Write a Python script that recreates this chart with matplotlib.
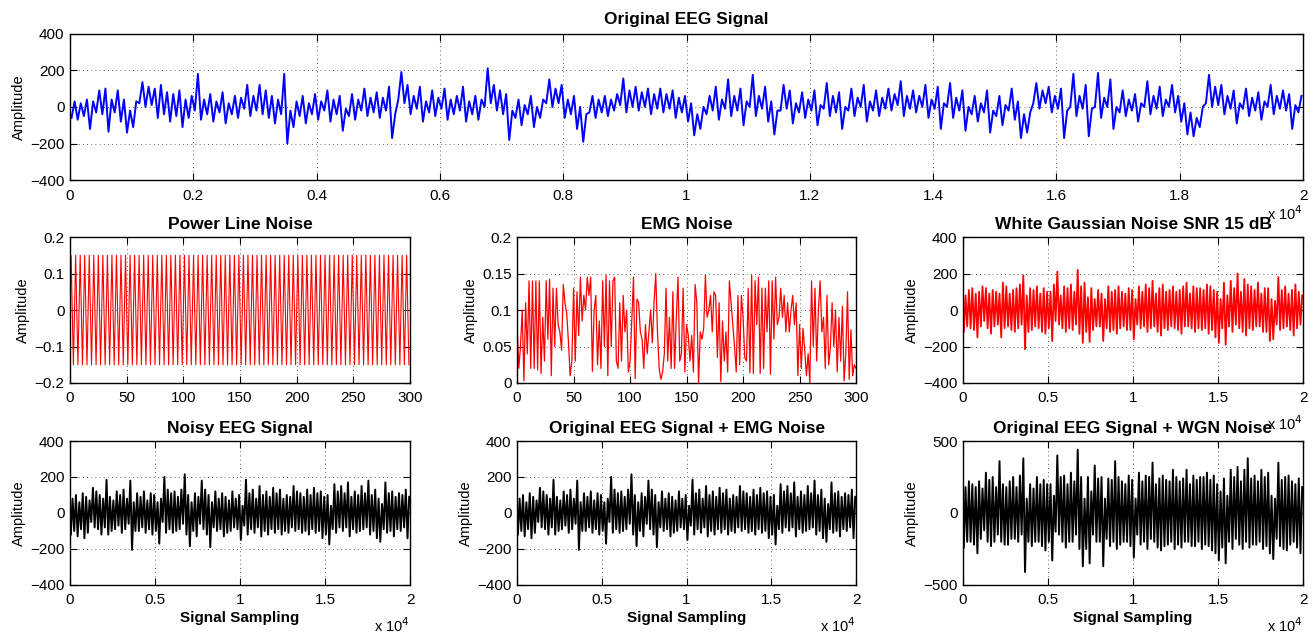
import numpy as np
import matplotlib
matplotlib.use("Agg")
import matplotlib.pyplot as plt
from matplotlib.ticker import FuncFormatter

plt.rcParams['font.family'] = ['Liberation Sans', 'DejaVu Sans']
plt.rcParams['font.size'] = 10

# Dense signals are kept as the low / high extent of the trace in each column
# of the picture (the line runs from one to the other inside every column).

# original EEG, one column per 100 samples (0 .. 20000)
eeg_lo = [-60, -70, -50, -120, -30, -40, -135, -30, -80, -140,
          -110, 20, 0, 10, -60, -40, -80, -50, -110, -60,
          -20, -70, -40, -80, -30, -90, -40, -60, -10, -50,
          -20, -40, -60, -90, -40, -200, -110, -50, -90, -40,
          -70, -20, -80, -40, -130, -50, -70, -20, -50, -30,
          -60, -20, -170, 40, 20, -40, -10, -80, -30, -50,
          -10, -70, -40, -20, -80, -40, -70, 0, 20, -20,
          -40, -180, -60, -100, -40, -110, -60, 20, 0, 20,
          -60, -40, -120, -190, -30, -60, -30, -50, -20, 10,
          -30, 0, -20, 0, -40, -10, -30, -10, -60, -30,
          -80, -155, -120, -40, -20, -70, -10, -50, -20, -100,
          0, -50, -10, -80, -150, -20, -10, -90, -30, -60,
          -20, -100, -10, -50, -30, -120, -20, -50, 0, -80,
          -20, -50, -10, -20, 10, -50, -10, -30, 0, -60,
          -10, -120, 0, -60, -20, -130, -40, -80, -30, -140,
          -50, -100, -20, -70, -170, -140, 20, -10, 20, -30,
          -10, -170, 0, -50, -10, -160, 0, -60, 0, -120,
          -30, -50, -20, -80, 0, -40, -10, -50, 0, -30,
          -80, -150, -160, -110, 20, 0, 10, -40, -10, -90,
          -10, -50, -20, -70, 0, -40, -10, -20, -120, -30]
eeg_hi = [30, 20, 40, 30, 90, 100, 40, 90, 40, -20,
          30, 135, 110, 100, 120, 80, 70, 90, 40, 60,
          180, 40, 70, 30, 80, 20, 60, 50, 120, 60,
          120, 90, 60, 40, 180, -20, 30, 60, 20, 70,
          30, 90, 40, 60, -10, 70, 40, 100, 50, 80,
          50, 110, -40, 190, 120, 60, 110, 30, 90, 50,
          100, 40, 60, 110, 30, 60, 40, 210, 120, 90,
          70, -20, 40, 10, 60, 0, 40, 150, 100, 120,
          40, 60, 0, -40, 60, 40, 60, 40, 70, 155,
          90, 110, 80, 100, 70, 100, 70, 90, 50, 60,
          20, -40, 0, 60, 110, 40, 150, 60, 100, 30,
          175, 60, 110, 30, -20, 120, 90, 20, 80, 40,
          90, 10, 130, 60, 80, 0, 100, 50, 120, 30,
          90, 50, 100, 70, 140, 60, 90, 60, 120, 40,
          110, 20, 130, 50, 90, 0, 60, 20, 90, -20,
          60, 10, 100, 30, -40, -30, 130, 90, 110, 60,
          100, -20, 180, 60, 120, -10, 185, 50, 150, 0,
          90, 40, 70, 20, 140, 60, 110, 40, 120, 60,
          20, -30, -60, 0, 175, 110, 120, 60, 90, 20,
          100, 50, 80, 30, 120, 60, 90, 70, 10, 60]

# power line noise, one cycle of 4 samples, repeats over 300 samples
pl_cycle = [0.0, 0.15, 0.0, -0.15]
pl_cycles = 75

# EMG noise over 300 samples
emg = [0.08, 0.02, 0.05, 0.10, 0.003, 0.11, 0.04, 0.14, 0.02, 0.14,
       0.02, 0.14, 0.018, 0.14, 0.013, 0.09, 0.03, 0.14, 0.06, 0.142,
       0.01, 0.13, 0.05, 0.13, 0.08, 0.07, 0.045, 0.135, 0.11, 0.095,
       0.057, 0.01, 0.03, 0.13, 0.03, 0.125, 0.065, 0.145, 0.085, 0.12,
       0.1, 0.145, 0.12, 0.145, 0.016, 0.1, 0.12, 0.025, 0.085, 0.02,
       0.14, 0.05, 0.148, 0.01, 0.14, 0.05, 0.14, 0.145, 0.03, 0.02,
       0.11, 0.03, 0.12, 0.07, 0.1, 0.015, 0.03, 0.085, 0.145, 0.006,
       0.115, 0.11, 0.07, 0.06, 0.02, 0.08, 0.04, 0.07, 0.1, 0.055,
       0.11, 0.15, 0.07, 0.02, 0.005, 0.015, 0.04, 0.13, 0.03, 0.09,
       0.02, 0.125, 0.02, 0.09, 0.145, 0.03, 0.04, 0.13, 0.015, 0.08,
       0.065, 0.03, 0.065, 0.015, 0.135, 0.11, 0.0, 0.07, 0.06, 0.075,
       0.148, 0.09, 0.1, 0.12, 0.07, 0.125, 0.12, 0.035, 0.11, 0.002,
       0.085, 0.03, 0.07, 0.015, 0.14, 0.11, 0.08, 0.05, 0.015, 0.12,
       0.025, 0.12, 0.09, 0.035, 0.03, 0.13, 0.014, 0.148, 0.013, 0.14,
       0.08, 0.145, 0.013, 0.13, 0.02, 0.13, 0.07, 0.14, 0.012, 0.14,
       0.06, 0.145, 0.08, 0.09, 0.13, 0.09, 0.12, 0.07, 0.11, 0.07,
       0.1, 0.12, 0.08, 0.11, 0.01, 0.08, 0.02, 0.075, 0.045, 0.01,
       0.04, 0.0, 0.14, 0.05, 0.13, 0.03, 0.1, 0.14, 0.07, 0.09,
       0.02, 0.12, 0.025, 0.05, 0.11, 0.05, 0.1, 0.015, 0.09, 0.03,
       0.105, 0.003, 0.04, 0.125, 0.005, 0.073, 0.01, 0.025, 0.02]

# white gaussian noise panel, one column per 200 samples
wgn_hi = [80, 110, 120, 90, 100, 130, 120, 90, 110, 100,
          90, 150, 130, 90, 110, 120, 140, 190, 80, 120,
          110, 130, 90, 120, 100, 100, 140, 210, 80, 130,
          120, 140, 100, 220, 130, 150, 70, 120, 60, 110,
          90, 60, 130, 100, 110, 130, 100, 90, 120, 110,
          60, 130, 100, 140, 120, 160, 90, 120, 140, 100,
          110, 130, 100, 110, 130, 150, 90, 130, 120, 120,
          110, 140, 130, 110, 100, 60, 150, 80, 160, 120,
          200, 100, 170, 140, 130, 110, 150, 90, 120, 120,
          60, 50, 180, 110, 130, 90, 110, 140, 100, 80]
wgn_lo = [-120, -90, -100, -110, -150, -90, -60, -100, -130, -90,
          -80, -150, -100, -90, -110, -120, -100, -80, -215, -120,
          -110, -90, -100, -120, -130, -100, -170, -60, -80, -100,
          -120, -100, -110, -80, -130, -180, -120, -175, -110, -90,
          -90, -170, -100, -120, -110, -130, -100, -90, -110, -110,
          -160, -80, -100, -90, -120, -100, -90, -120, -140, -100,
          -110, -90, -100, -110, -130, -90, -90, -100, -120, -100,
          -110, -100, -130, -110, -150, -180, -100, -190, -90, -120,
          -80, -100, -120, -140, -100, -110, -90, -90, -120, -120,
          -170, -160, -80, -110, -100, -90, -110, -140, -100, -80]

# noisy EEG, one column per 200 samples
noisy_hi = [80, 100, 60, 110, 90, 70, 140, 120, 100, 80,
            185, 90, 70, 120, 100, 130, 80, 180, 60, 110,
            90, 120, 70, 110, 100, 60, 80, 200, 130, 110,
            120, 90, 130, 215, 100, 60, 110, 90, 180, 130,
            100, 60, 120, 80, 110, 90, 70, 120, 80, 100,
            40, 185, 110, 130, 80, 150, 100, 120, 90, 140,
            110, 130, 80, 100, 90, 150, 120, 110, 90, 130,
            100, 140, 110, 120, 90, 100, 40, 160, 120, 150,
            110, 170, 90, 120, 100, 150, 110, 180, 100, 130,
            80, 50, 170, 110, 120, 90, 110, 100, 130, 90]
noisy_lo = [-120, -100, -130, -90, -140, -110, -50, -80, -90, -120,
            -80, -120, -100, -90, -70, -110, -90, -60, -205, -100,
            -100, -80, -110, -90, -120, -100, -170, -50, -110, -90,
            -110, -100, -90, -60, -120, -185, -100, -130, -60, -90,
            -120, -190, -80, -100, -90, -130, -110, -100, -80, -90,
            -150, -70, -120, -90, -110, -80, -130, -100, -120, -90,
            -110, -90, -120, -100, -110, -80, -100, -90, -110, -100,
            -120, -90, -110, -100, -140, -120, -175, -90, -110, -80,
            -100, -80, -130, -90, -110, -100, -90, -80, -120, -100,
            -140, -160, -90, -110, -100, -130, -90, -100, -80, -140]

# EEG + EMG looks the same as the noisy EEG at this scale
emg_hi = list(noisy_hi)
emg_lo = list(noisy_lo)

# EEG + WGN, one column per 200 samples
ew_hi = [180, 220, 200, 180, 220, 170, 280, 230, 250, 180,
         360, 200, 180, 220, 250, 180, 260, 380, 100, 200,
         170, 250, 200, 230, 200, 200, 120, 400, 250, 260,
         200, 280, 220, 440, 250, 100, 250, 150, 330, 240,
         250, 100, 240, 230, 360, 250, 220, 200, 260, 230,
         100, 280, 220, 260, 250, 350, 200, 240, 260, 230,
         220, 300, 250, 220, 240, 300, 200, 260, 230, 250,
         250, 280, 230, 260, 200, 150, 240, 120, 300, 250,
         320, 220, 300, 380, 240, 260, 220, 300, 250, 280,
         120, 100, 350, 230, 250, 260, 220, 200, 240, 180]
ew_lo = [-240, -200, -200, -220, -280, -180, -120, -200, -230, -200,
         -150, -200, -220, -220, -180, -180, -200, -150, -410, -200,
         -230, -200, -200, -230, -260, -200, -330, -130, -150, -200,
         -240, -200, -200, -150, -250, -370, -250, -350, -150, -200,
         -200, -370, -180, -230, -200, -250, -220, -200, -200, -230,
         -310, -150, -220, -200, -250, -180, -200, -240, -260, -230,
         -220, -200, -250, -220, -240, -200, -200, -230, -230, -200,
         -250, -220, -230, -260, -280, -330, -240, -350, -200, -250,
         -180, -220, -250, -200, -240, -220, -220, -200, -250, -230,
         -280, -320, -180, -230, -250, -260, -220, -200, -240, -280]

N = 20000


def trace(lo, hi, total):
    # run the line low -> high inside each column
    n = len(lo)
    step = total / n
    x = np.empty(2 * n)
    y = np.empty(2 * n)
    x[0::2] = np.arange(n) * step + step * 0.25
    x[1::2] = np.arange(n) * step + step * 0.75
    y[0::2] = lo
    y[1::2] = hi
    return x, y


def num(v, p):
    return ('%g' % v).replace('-', '\u2212')


fmt_y = FuncFormatter(num)
fmt_x4 = FuncFormatter(lambda v, p: num(v / 1e4, p))

fig = plt.figure(figsize=(13.13, 6.36), dpi=100)


def style(ax, xlim, ylim, xt, yt):
    ax.set_xlim(xlim)
    ax.set_ylim(ylim)
    ax.set_xticks(xt)
    ax.set_yticks(yt)
    ax.yaxis.set_major_formatter(fmt_y)
    ax.grid(True, color='black', linestyle=(0, (1, 4)), linewidth=0.6, alpha=0.8)
    ax.tick_params(direction='in', top=True, right=True, length=5, labelsize=11)
    ax.tick_params(axis='x', pad=6)
    ax.tick_params(axis='y', pad=4)
    for s in ax.spines.values():
        s.set_linewidth(1.0)
    ax.set_ylabel('Amplitude', fontsize=10.5, labelpad=3)


def sci(ax, y):
    ax.text(1.0, y, r'x 10$^4$', transform=ax.transAxes, ha='right', va='center', fontsize=10.5)


bigx = np.arange(0, N + 1, 5000)
tsize = 12.5

# top
ax = fig.add_axes([0.0533, 0.7165, 0.9391, 0.2308])
x, y = trace(eeg_lo, eeg_hi, N)
ax.plot(x, y, color='blue', lw=1.4)
style(ax, (0, N), (-400, 400), np.arange(0, N + 1, 2000), np.arange(-400, 401, 200))
ax.xaxis.set_major_formatter(fmt_x4)
ax.set_title('Original EEG Signal', fontsize=tsize, fontweight='bold', pad=7)
sci(ax, -0.23)

mid_y, mid_h = 0.3978, 0.2295
bot_y, bot_h = 0.0802, 0.2264
xs = [0.0533, 0.3938, 0.7334]
ws = [0.2590, 0.2582, 0.2590]

# power line
ax = fig.add_axes([xs[0], mid_y, ws[0], mid_h])
pl = np.tile(pl_cycle, pl_cycles)
ax.plot(np.arange(len(pl)), pl, color='red', lw=0.8)
style(ax, (0, 300), (-0.2, 0.2), np.arange(0, 301, 50), [-0.2, -0.1, 0, 0.1, 0.2])
ax.set_title('Power Line Noise', fontsize=tsize, fontweight='bold', pad=6)

# EMG
ax = fig.add_axes([xs[1], mid_y, ws[1], mid_h])
ax.plot(np.linspace(0, 300, len(emg)), emg, color='red', lw=0.9)
style(ax, (0, 300), (0, 0.2), np.arange(0, 301, 50), [0, 0.05, 0.1, 0.15, 0.2])
ax.set_title('EMG Noise', fontsize=tsize, fontweight='bold', pad=6)

# WGN
ax = fig.add_axes([xs[2], mid_y, ws[2], mid_h])
x, y = trace(wgn_lo, wgn_hi, N)
ax.plot(x, y, color='red', lw=1.3)
style(ax, (0, N), (-400, 400), bigx, np.arange(-400, 401, 200))
ax.xaxis.set_major_formatter(fmt_x4)
ax.set_title('White Gaussian Noise SNR 15 dB', fontsize=tsize, fontweight='bold', pad=6)
sci(ax, -0.28)

# bottom row
bottom = [(noisy_lo, noisy_hi, 'Noisy EEG Signal', (-400, 400), np.arange(-400, 401, 200)),
          (emg_lo, emg_hi, 'Original EEG Signal + EMG Noise', (-400, 400), np.arange(-400, 401, 200)),
          (ew_lo, ew_hi, 'Original EEG Signal + WGN Noise', (-500, 500), [-500, 0, 500])]
for i, (lo, hi, title, yl, yt) in enumerate(bottom):
    ax = fig.add_axes([xs[i], bot_y, ws[i], bot_h])
    x, y = trace(lo, hi, N)
    ax.plot(x, y, color='black', lw=1.4)
    style(ax, (0, N), yl, bigx, yt)
    ax.xaxis.set_major_formatter(fmt_x4)
    ax.set_title(title, fontsize=tsize, fontweight='bold', pad=6)
    ax.set_xlabel('Signal Sampling', fontsize=11, fontweight='bold', labelpad=3)
    sci(ax, -0.285)

fig.savefig('out.png', dpi=100)
